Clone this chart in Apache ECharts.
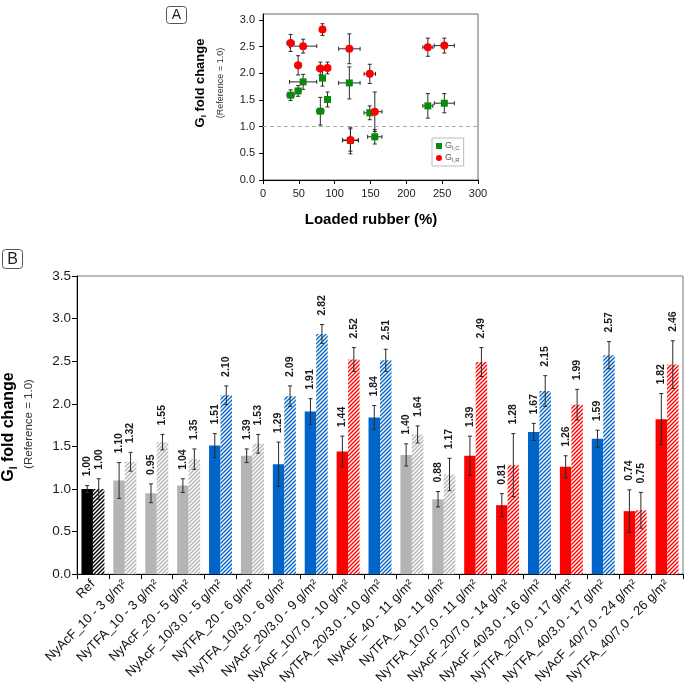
<!DOCTYPE html>
<html>
<head>
<meta charset="utf-8">
<script src="https://cdn.jsdelivr.net/npm/echarts/dist/echarts.min.js"></script>
<style>
html,body{margin:0;padding:0;background:#fff;}
#chart{width:685px;height:687px;}
</style>
</head>
<body>
<div id="chart"></div>
<script>
// ---------------- DATA ----------------
const categories = [
  'Ref',
  'NyAcF_10 - 3 g/m²',
  'NyTFA_10 - 3 g/m²',
  'NyAcF_20 - 5 g/m²',
  'NyAcF_10/3.0 - 5 g/m²',
  'NyTFA_20 - 6 g/m²',
  'NyTFA_10/3.0 - 6 g/m²',
  'NyAcF_20/3.0 - 9 g/m²',
  'NyAcF_10/7.0 - 10 g/m²',
  'NyTFA_20/3.0 - 10 g/m²',
  'NyAcF_40 - 11 g/m²',
  'NyTFA_40 - 11 g/m²',
  'NyTFA_10/7.0 - 11 g/m²',
  'NyAcF_20/7.0 - 14 g/m²',
  'NyAcF_40/3.0 - 16 g/m²',
  'NyTFA_20/7.0 - 17 g/m²',
  'NyTFA_40/3.0 - 17 g/m²',
  'NyAcF_40/7.0 - 24 g/m²',
  'NyTFA_40/7.0 - 26 g/m²'
];
// G_I,C fold change (solid bars) and its error
const giC    = [1.00, 1.10, 0.95, 1.04, 1.51, 1.39, 1.29, 1.91, 1.44, 1.84, 1.40, 0.88, 1.39, 0.81, 1.67, 1.26, 1.59, 0.74, 1.82];
const giCErr = [0.04, 0.21, 0.11, 0.08, 0.14, 0.08, 0.26, 0.15, 0.18, 0.14, 0.13, 0.09, 0.23, 0.135, 0.10, 0.13, 0.10, 0.25, 0.30];
// G_I,R fold change (hatched bars) and its error
const giR    = [1.00, 1.32, 1.55, 1.35, 2.10, 1.53, 2.09, 2.82, 2.52, 2.51, 1.64, 1.17, 2.49, 1.28, 2.15, 1.99, 2.57, 0.75, 2.46];
const giRErr = [0.12, 0.11, 0.09, 0.12, 0.11, 0.11, 0.12, 0.11, 0.14, 0.13, 0.10, 0.19, 0.17, 0.37, 0.18, 0.18, 0.16, 0.21, 0.28];
// Loaded rubber (%) for the coated treatments (panel A); null = not shown
const loadedRubber    = [null, null, null, null, 90, null, 80, 83, 253, 56, null, null, 230, 156, 49, 149, 38.5, 122, 120.5];
const loadedRubberErr = [null, null, null, null, 4,  null, 5,  3,  14,  19, null, null, 7,   10,  4,  8,   5,    11,  15];
const yTicksA = [0, 0.5, 1.0, 1.5, 2.0, 2.5, 3.0];

// ---------------- STYLE HELPERS ----------------
const FONT = '"Liberation Sans", Arial, Helvetica, sans-serif';
function groupColor(name) {
  if (name === 'Ref') return '#000000';
  if (name.indexOf('/3.0') >= 0) return '#0064c8';
  if (name.indexOf('/7.0') >= 0) return '#ff0000';
  return '#b4b4b4';
}
function hatch(color) {
  const s = 4;
  const c = document.createElement('canvas');
  c.width = s; c.height = s;
  const g = c.getContext('2d');
  g.fillStyle = '#ffffff';
  g.fillRect(0, 0, s, s);
  g.strokeStyle = color;
  g.lineWidth = 1.4;
  g.beginPath();
  g.moveTo(0, s); g.lineTo(s, 0);
  g.moveTo(-1, 1); g.lineTo(1, -1);
  g.moveTo(s - 1, s + 1); g.lineTo(s + 1, s - 1);
  g.stroke();
  return { image: c, repeat: 'repeat' };
}
const BAR_CAT_GAP = 0.28;

// ---------------- BUILD SERIES DATA ----------------
const solidData = categories.map((n, i) => ({ value: giC[i], itemStyle: { color: groupColor(n) } }));
const hatchData = categories.map((n, i) => ({ value: giR[i], itemStyle: { color: hatch(groupColor(n)) } }));
const errBData = [];
categories.forEach((n, i) => {
  errBData.push([i, giC[i] - giCErr[i], giC[i] + giCErr[i], giC[i], -1]);
  errBData.push([i, giR[i] - giRErr[i], giR[i] + giRErr[i], giR[i], 1]);
});
const scatC = [], scatR = [], errA = [];
categories.forEach((n, i) => {
  if (loadedRubber[i] == null) return;
  scatC.push([loadedRubber[i], giC[i]]);
  scatR.push([loadedRubber[i], giR[i]]);
  errA.push([loadedRubber[i], giC[i], loadedRubberErr[i], giCErr[i]]);
  errA.push([loadedRubber[i], giR[i], loadedRubberErr[i], giRErr[i]]);
});

function renderErrB(params, api) {
  const ci = api.value(0), lo = api.value(1), hi = api.value(2), v = api.value(3), side = api.value(4);
  const band = api.size([1, 0])[0];
  const bw = band * (1 - BAR_CAT_GAP) / 2;
  const cx = api.coord([ci, 0])[0] + side * bw / 2;
  const yT = api.coord([ci, hi])[1];
  const yB = api.coord([ci, lo])[1];
  const st = { stroke: '#2a2a2a', lineWidth: 1 };
  const cap = 2;
  return {
    type: 'group',
    children: [
      { type: 'line', shape: { x1: cx, y1: yT, x2: cx, y2: yB }, style: st },
      { type: 'line', shape: { x1: cx - cap, y1: yT, x2: cx + cap, y2: yT }, style: st },
      { type: 'line', shape: { x1: cx - cap, y1: yB, x2: cx + cap, y2: yB }, style: st },
      { type: 'text', x: cx, y: yT - 9, rotation: Math.PI / 2,
        style: { text: v.toFixed(2), font: 'bold 10.5px ' + FONT, fill: '#1a1a1a',
                 align: 'left', verticalAlign: 'middle', textAlign: 'left', textVerticalAlign: 'middle' } }
    ]
  };
}
function renderErrA(params, api) {
  const x = api.value(0), y = api.value(1), xe = api.value(2), ye = api.value(3);
  const p = api.coord([x, y]);
  const xl = api.coord([x - xe, y])[0], xr = api.coord([x + xe, y])[0];
  const yt = api.coord([x, y + ye])[1], yb = api.coord([x, y - ye])[1];
  const st = { stroke: '#2a2a2a', lineWidth: 1 };
  const c = 2;
  return {
    type: 'group',
    children: [
      { type: 'line', shape: { x1: xl, y1: p[1], x2: xr, y2: p[1] }, style: st },
      { type: 'line', shape: { x1: xl, y1: p[1] - c, x2: xl, y2: p[1] + c }, style: st },
      { type: 'line', shape: { x1: xr, y1: p[1] - c, x2: xr, y2: p[1] + c }, style: st },
      { type: 'line', shape: { x1: p[0], y1: yt, x2: p[0], y2: yb }, style: st },
      { type: 'line', shape: { x1: p[0] - c, y1: yt, x2: p[0] + c, y2: yt }, style: st },
      { type: 'line', shape: { x1: p[0] - c, y1: yb, x2: p[0] + c, y2: yb }, style: st }
    ]
  };
}

const axisLineBlack = { show: true, lineStyle: { color: '#000', width: 1 } };
const chart = echarts.init(document.getElementById('chart'), null, { renderer: 'canvas' });
const option = {
  animation: false,
  backgroundColor: '#ffffff',
  textStyle: { fontFamily: FONT },
  grid: [
    { left: 263, top: 14, width: 215, height: 166, show: true, borderColor: '#666', borderWidth: 1, backgroundColor: 'transparent' },
    { left: 77, top: 276, width: 606, height: 299.3, show: true, borderColor: '#777', borderWidth: 1, backgroundColor: 'transparent' }
  ],
  xAxis: [
    { type: 'value', gridIndex: 0, min: 0, max: 300, interval: 50,
      axisLine: axisLineBlack, axisTick: { show: true, inside: false, length: 4, lineStyle: { color: '#000' } },
      axisLabel: { fontSize: 11, color: '#1a1a1a', margin: 8, fontFamily: FONT },
      splitLine: { show: false } },
    { type: 'category', gridIndex: 1, data: categories, boundaryGap: true,
      axisLine: axisLineBlack, axisTick: { show: true, inside: false, length: 5, alignWithLabel: false, lineStyle: { color: '#000' } },
      axisLabel: { interval: 0, rotate: 45, fontSize: 13, color: '#111', margin: 8, fontFamily: FONT },
      splitLine: { show: false } }
  ],
  yAxis: [
    { type: 'value', gridIndex: 0, min: 0, max: 3.1125,
      axisLine: axisLineBlack,
      axisTick: { show: true, length: 4, customValues: yTicksA, lineStyle: { color: '#000' } },
      axisLabel: { fontSize: 11, color: '#1a1a1a', margin: 8, customValues: yTicksA, formatter: v => v.toFixed(1), fontFamily: FONT },
      splitLine: { show: false } },
    { type: 'value', gridIndex: 1, min: 0, max: 3.5, interval: 0.5,
      axisLine: axisLineBlack,
      axisTick: { show: true, length: 5, lineStyle: { color: '#000' } },
      axisLabel: { fontSize: 13.5, color: '#1a1a1a', margin: 6, formatter: v => v.toFixed(1), fontFamily: FONT },
      splitLine: { show: false } }
  ],
  legend: {
    left: 432, top: 138, orient: 'vertical',
    padding: [3, 4, 3, 4], itemGap: 2, itemWidth: 6, itemHeight: 6,
    borderColor: '#bbb', borderWidth: 1, borderRadius: 0,
    selectedMode: false,
    data: [{ name: 'GIC', icon: 'rect' }, { name: 'GIR', icon: 'circle' }],
    formatter: n => n === 'GIC' ? '{m|G}{s|I,C}' : '{m|G}{s|I,R}',
    textStyle: { color: '#555', fontSize: 9, padding: [0, 0, 0, -2],
      rich: {
        m: { fontSize: 9, color: '#555', fontFamily: FONT, verticalAlign: 'top', lineHeight: 10 },
        s: { fontSize: 6, color: '#555', fontFamily: FONT, verticalAlign: 'top', padding: [4, 0, 0, 0] }
      } }
  },
  series: [
    { name: 'errA', type: 'custom', xAxisIndex: 0, yAxisIndex: 0, data: errA, renderItem: renderErrA, z: 2, silent: true },
    { name: 'GIC', type: 'scatter', xAxisIndex: 0, yAxisIndex: 0, data: scatC, symbol: 'rect', symbolSize: 7,
      itemStyle: { color: '#0a8a0a', opacity: 1 }, z: 3,
      markLine: { silent: true, symbol: 'none', label: { show: false },
        lineStyle: { color: '#aaa', type: [4, 3], width: 1 }, data: [{ yAxis: 1 }] } },
    { name: 'GIR', type: 'scatter', xAxisIndex: 0, yAxisIndex: 0, data: scatR, symbol: 'circle', symbolSize: 8,
      itemStyle: { color: '#ff0000', opacity: 1 }, z: 4 },
    { name: 'barC', type: 'bar', xAxisIndex: 1, yAxisIndex: 1, data: solidData,
      barGap: '0%', barCategoryGap: (BAR_CAT_GAP * 100) + '%', z: 2 },
    { name: 'barR', type: 'bar', xAxisIndex: 1, yAxisIndex: 1, data: hatchData,
      barGap: '0%', barCategoryGap: (BAR_CAT_GAP * 100) + '%', z: 2 },
    { name: 'errB', type: 'custom', xAxisIndex: 1, yAxisIndex: 1, data: errBData, renderItem: renderErrB, z: 5, silent: true }
  ],
  graphic: [
    // panel labels
    { type: 'rect', shape: { x: 166.5, y: 6.5, width: 20, height: 17, r: 3 }, style: { fill: '#fff', stroke: '#555', lineWidth: 1 } },
    { type: 'text', x: 176.5, y: 15.5, style: { text: 'A', font: '14px ' + FONT, fill: '#222', align: 'center', verticalAlign: 'middle', textAlign: 'center', textVerticalAlign: 'middle' } },
    { type: 'rect', shape: { x: 2.5, y: 249.5, width: 20, height: 19, r: 3 }, style: { fill: '#fff', stroke: '#555', lineWidth: 1 } },
    { type: 'text', x: 12.5, y: 259.5, style: { text: 'B', font: '16px ' + FONT, fill: '#222', align: 'center', verticalAlign: 'middle', textAlign: 'center', textVerticalAlign: 'middle' } },
    // panel A titles
    { type: 'text', x: 201, y: 83, rotation: Math.PI / 2,
      style: { text: '{m|G}{s|I}{m| fold change}', align: 'center', verticalAlign: 'middle', textAlign: 'center', textVerticalAlign: 'middle',
        rich: { m: { font: 'bold 13px ' + FONT, fill: '#000', color: '#000', verticalAlign: 'top', lineHeight: 14 },
                s: { font: 'bold 8px ' + FONT, fill: '#000', color: '#000', verticalAlign: 'top', padding: [6, 0, 0, 0] } } } },
    { type: 'text', x: 221, y: 83, rotation: Math.PI / 2,
      style: { text: '(Reference = 1.0)', font: '9px ' + FONT, fill: '#333', align: 'center', verticalAlign: 'middle', textAlign: 'center', textVerticalAlign: 'middle' } },
    { type: 'text', x: 371, y: 220,
      style: { text: 'Loaded rubber (%)', font: 'bold 15px ' + FONT, fill: '#000', align: 'center', verticalAlign: 'middle', textAlign: 'center', textVerticalAlign: 'middle' } },
    // panel B titles
    { type: 'text', x: 10, y: 427, rotation: Math.PI / 2,
      style: { text: '{m|G}{s|I}{m| fold change}', align: 'center', verticalAlign: 'middle', textAlign: 'center', textVerticalAlign: 'middle',
        rich: { m: { font: 'bold 16px ' + FONT, fill: '#000', color: '#000', verticalAlign: 'top', lineHeight: 17 },
                s: { font: 'bold 10px ' + FONT, fill: '#000', color: '#000', verticalAlign: 'top', padding: [8, 0, 0, 0] } } } },
    { type: 'text', x: 29, y: 424, rotation: Math.PI / 2,
      style: { text: '(Reference = 1.0)', font: '11.5px ' + FONT, fill: '#333', align: 'center', verticalAlign: 'middle', textAlign: 'center', textVerticalAlign: 'middle' } }
  ]
};
chart.setOption(option);
</script>
</body>
</html>
